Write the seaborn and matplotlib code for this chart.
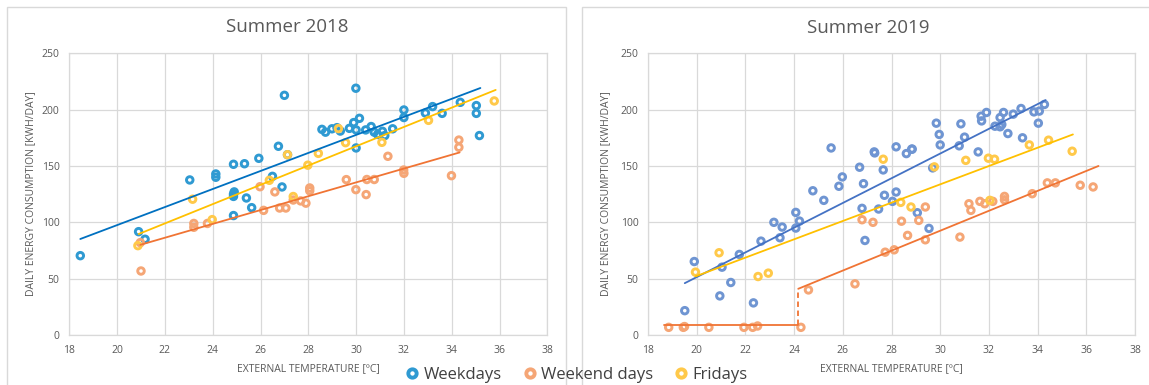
import numpy as np
import pandas as pd
import matplotlib
matplotlib.use("Agg")
import matplotlib.pyplot as plt
from matplotlib.lines import Line2D
from matplotlib.patches import Rectangle
import seaborn as sns

# ---------------- data: summer 2018 ----------------
wd18_temp = [18.46, 20.9, 21.17, 23.04, 24.13, 24.13, 24.87, 25.33, 25.93, 24.87,
             24.9, 24.87, 24.87, 25.41, 25.63, 26.5, 26.75, 26.9, 27.0, 27.13,
             28.57, 28.72, 28.99, 29.2, 29.34, 29.72, 29.9, 29.99, 30.0, 30.0,
             30.14, 30.4, 30.63, 30.76, 30.9, 31.1, 31.2, 31.53, 32.0, 32.0,
             32.9, 33.2, 33.6, 34.36, 35.03, 35.03, 35.16]
wd18_cons = [70.4, 91.7, 85.0, 137.6, 142.9, 140.0, 151.5, 152.0, 156.8, 125.0,
             127.0, 123.0, 106.0, 121.6, 113.0, 140.8, 167.5, 131.4, 212.7, 160.0,
             182.5, 180.0, 183.0, 184.0, 181.0, 183.4, 188.5, 219.0, 182.0, 166.0,
             192.3, 182.0, 185.0, 180.0, 178.0, 180.8, 177.0, 183.0, 199.7, 193.0,
             197.0, 202.7, 196.7, 206.5, 203.6, 196.7, 177.0]

we18_temp = [21.0, 20.97, 23.21, 23.21, 23.78, 25.98, 26.13, 26.6, 26.8, 27.06,
             27.37, 27.68, 27.9, 28.06, 28.06, 29.59, 29.99, 30.42, 30.45, 30.76,
             31.33, 31.99, 32.0, 33.99, 34.3, 34.3]
we18_cons = [56.8, 82.0, 99.0, 95.6, 99.0, 131.6, 110.6, 127.0, 112.7, 112.7,
             119.8, 119.0, 117.0, 130.5, 128.0, 137.9, 129.0, 124.6, 138.0, 138.0,
             158.6, 146.4, 143.5, 141.4, 173.0, 166.6]

fr18_temp = [20.87, 23.16, 23.98, 26.37, 27.13, 27.37, 27.98, 28.42, 29.26, 29.56,
             31.08, 33.03, 35.78]
fr18_cons = [79.3, 120.5, 102.4, 137.3, 160.0, 122.9, 150.7, 161.2, 183.2, 170.7,
             171.0, 190.5, 207.7]

# fitted trend lines (end points)
tr18_wd_x, tr18_wd_y = [18.46, 35.2], [85.2, 219.2]
tr18_we_x, tr18_we_y = [20.97, 34.33], [80.0, 162.0]
tr18_fr_x, tr18_fr_y = [20.9, 35.84], [89.6, 217.5]

# ---------------- data: summer 2019 ----------------
wd19_temp = [19.51, 19.9, 20.95, 21.04, 21.4, 21.75, 22.33, 22.64, 23.17, 23.42,
             23.51, 24.07, 24.07, 24.22, 24.77, 25.22, 25.52, 25.84, 25.98, 26.69,
             26.79, 26.85, 26.91, 27.29, 27.31, 27.47, 27.66, 27.71, 28.04, 28.19,
             28.19, 28.61, 28.83, 28.85, 29.06, 29.54, 29.69, 29.84, 29.96, 30.0,
             30.78, 30.85, 31.0, 31.56, 31.68, 31.7, 31.9, 32.25, 32.46, 32.46,
             32.53, 32.6, 32.78, 33.0, 33.32, 33.38, 33.85, 34.03, 34.07, 34.28]
wd19_cons = [21.6, 65.2, 34.7, 60.2, 46.6, 71.5, 28.5, 83.3, 100.0, 86.3,
             95.8, 108.8, 94.9, 101.1, 128.0, 119.5, 166.0, 132.0, 140.3, 148.9,
             112.4, 134.3, 83.9, 162.5, 161.6, 111.8, 146.5, 124.0, 118.6, 167.0,
             126.9, 161.0, 164.9, 165.0, 108.5, 94.6, 148.3, 188.0, 178.0, 168.7,
             167.9, 187.4, 175.6, 162.5, 194.2, 190.0, 197.5, 185.3, 184.8, 193.0,
             186.8, 197.5, 178.8, 196.0, 201.0, 175.0, 198.0, 188.0, 198.7, 204.6]

we19_temp = [18.85, 19.45, 19.5, 20.5, 21.94, 22.3, 22.5, 24.28, 24.59, 26.5,
             26.79, 27.24, 27.74, 28.11, 28.41, 28.66, 29.12, 29.39, 29.39, 30.81,
             31.18, 31.26, 31.63, 31.83, 32.16, 32.64, 32.64, 33.78, 34.4, 34.73,
             35.75, 36.28]
we19_cons = [6.8, 6.8, 7.5, 6.8, 6.8, 6.8, 8.0, 6.8, 40.0, 45.4,
             102.3, 100.0, 73.5, 75.6, 101.0, 88.4, 101.7, 113.6, 84.5, 86.9,
             116.5, 110.6, 118.6, 116.5, 118.6, 123.0, 120.0, 125.4, 135.0, 135.0,
             132.9, 131.4]

fr19_temp = [19.95, 20.92, 22.52, 22.94, 27.66, 28.38, 28.8, 29.76, 31.05, 31.98,
             32.23, 32.04, 33.66, 34.45, 35.42]
fr19_cons = [55.8, 73.0, 51.9, 54.9, 156.0, 117.7, 113.6, 149.2, 155.0, 156.9,
             156.0, 119.5, 168.7, 172.9, 163.1]

tr19_wd_x, tr19_wd_y = [19.51, 34.33], [46.0, 208.5]
tr19_fr_x, tr19_fr_y = [19.95, 35.45], [52.0, 178.0]
tr19_we_low_x, tr19_we_low_y = [18.67, 24.17], [8.9, 8.9]
tr19_we_step_x, tr19_we_step_y = [24.17, 24.17], [8.9, 41.0]
tr19_we_high_x, tr19_we_high_y = [24.17, 36.5], [41.0, 150.0]

x_ticks = [18, 20, 22, 24, 26, 28, 30, 32, 34, 36, 38]
y_ticks = [0, 50, 100, 150, 200, 250]
series_names = ["Weekdays", "Weekend days", "Fridays"]
titles = ["Summer 2018", "Summer 2019"]

# ---------------- style ----------------
sns.set_theme(style="white")
plt.rcParams["font.family"] = ["Open Sans", "DejaVu Sans"]

GRID = "#D9D9D9"
TXT = "#595959"
pal18 = {"Weekdays": "#2F9AD2", "Weekend days": "#F5A676", "Fridays": "#FFC94A"}
pal19 = {"Weekdays": "#6F95D2", "Weekend days": "#F5A676", "Fridays": "#FFC94A"}
line18 = {"Weekdays": "#0070C0", "Weekend days": "#F07434", "Fridays": "#FFC000"}
line19 = {"Weekdays": "#4472C4", "Weekend days": "#F07434", "Fridays": "#FFC000"}
LW = 1.3


def frame(temp_lists, cons_lists):
    parts = []
    for name, t, c in zip(series_names, temp_lists, cons_lists):
        parts.append(pd.DataFrame({"temp": t, "cons": c, "day": name}))
    return pd.concat(parts, ignore_index=True)


df18 = frame([wd18_temp, we18_temp, fr18_temp], [wd18_cons, we18_cons, fr18_cons])
df19 = frame([wd19_temp, we19_temp, fr19_temp], [wd19_cons, we19_cons, fr19_cons])

W, H = 1149, 385
fig = plt.figure(figsize=(W / 100, H / 100), dpi=100)
fig.patch.set_facecolor("white")

# chart-area borders
fig.patches.append(Rectangle((7 / W, -0.05), 559 / W, 1.05 - 6.7 / H, transform=fig.transFigure,
                             fill=False, edgecolor="#D9D9D9", lw=1.0))
fig.patches.append(Rectangle((582 / W, -0.05), 575 / W, 1.05 - 7 / H, transform=fig.transFigure,
                             fill=False, edgecolor="#D9D9D9", lw=1.0))

ax1 = fig.add_axes([69.3 / W, 50 / H, 478 / W, 281.7 / H])
ax2 = fig.add_axes([648 / W, 50 / H, 487 / W, 281.7 / H])


def style_axes(ax):
    ax.set_xlim(18, 38)
    ax.set_ylim(0, 250)
    ax.set_xticks(x_ticks)
    ax.set_yticks(y_ticks)
    ax.grid(True, color=GRID, lw=0.9)
    ax.set_axisbelow(True)
    for s in ax.spines.values():
        s.set_color(GRID)
        s.set_linewidth(0.9)
    ax.tick_params(axis="both", length=0, labelsize=7.5, labelcolor=TXT)
    ax.tick_params(axis="y", pad=7)
    ax.tick_params(axis="x", pad=7)
    ax.set_xlabel("")
    ax.set_ylabel("")


def draw_points(ax, df, pal):
    sns.scatterplot(data=df, x="temp", y="cons", hue="day", hue_order=series_names,
                    palette=pal, marker="o", s=22, facecolors="none",
                    linewidth=2.1, legend=False, ax=ax, zorder=3)
    # hollow rings: keep only the edge colour
    for coll in ax.collections:
        ec = coll.get_facecolors()
        if len(ec):
            coll.set_edgecolors(ec)
            coll.set_facecolors("none")


draw_points(ax1, df18, pal18)
sns.lineplot(x=tr18_wd_x, y=tr18_wd_y, color=line18["Weekdays"], lw=LW, ax=ax1, zorder=4)
sns.lineplot(x=tr18_we_x, y=tr18_we_y, color=line18["Weekend days"], lw=LW, ax=ax1, zorder=4)
sns.lineplot(x=tr18_fr_x, y=tr18_fr_y, color=line18["Fridays"], lw=LW, ax=ax1, zorder=4)

draw_points(ax2, df19, pal19)
sns.lineplot(x=tr19_wd_x, y=tr19_wd_y, color=line19["Weekdays"], lw=LW, ax=ax2, zorder=4)
sns.lineplot(x=tr19_fr_x, y=tr19_fr_y, color=line19["Fridays"], lw=LW, ax=ax2, zorder=4)
sns.lineplot(x=tr19_we_low_x, y=tr19_we_low_y, color=line19["Weekend days"], lw=LW, ax=ax2, zorder=4)
sns.lineplot(x=tr19_we_step_x, y=tr19_we_step_y, color=line19["Weekend days"], lw=LW,
             linestyle=(0, (3, 2)), ax=ax2, zorder=4, estimator=None, sort=False)
sns.lineplot(x=tr19_we_high_x, y=tr19_we_high_y, color=line19["Weekend days"], lw=LW, ax=ax2, zorder=4,
             estimator=None)

for ax in (ax1, ax2):
    style_axes(ax)

# titles and axis labels
fig.text(287 / W, 1 - 27 / H, titles[0], ha="center", va="center", fontsize=13.5, color=TXT)
fig.text(868 / W, 1 - 28 / H, titles[1], ha="center", va="center", fontsize=13.5, color=TXT)
for xc in (308, 891.5):
    fig.text(xc / W, 1 - 369 / H, "EXTERNAL TEMPERATURE [ºC]", ha="center", va="center",
             fontsize=7.5, color=TXT)
for xc in (31, 606):
    fig.text(xc / W, 1 - 194 / H, "DAILY ENERGY CONSUMPTION [KWH/DAY]", ha="center", va="center",
             rotation=90, fontsize=7.5, color=TXT)

# shared legend
handles = [Line2D([], [], ls="none", marker="o", ms=6, mew=2.8, mfc="white",
                  mec=pal18[n]) for n in series_names]
fig.legend(handles, series_names, loc="center", bbox_to_anchor=(577 / W, 1 - 375 / H),
           ncol=3, frameon=False, fontsize=12, labelcolor="#404040",
           handlelength=0.7, handletextpad=0.35, columnspacing=1.3, borderpad=0)

fig.savefig("out.png", dpi=100, facecolor="white")
